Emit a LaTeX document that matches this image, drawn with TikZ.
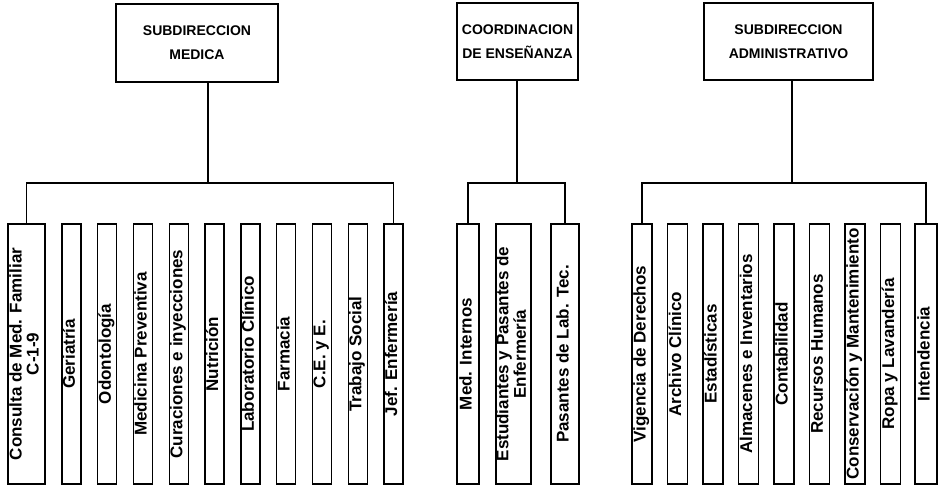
\documentclass[tikz,border=0pt]{standalone}
\usepackage{fontspec}
\setmainfont{Liberation Sans}
\usepackage{graphicx}
\usetikzlibrary{positioning}
\newcommand{\vtext}[1]{\rotatebox{90}{\begin{tabular}{@{}c@{}}#1\end{tabular}}}

\begin{document}
\begin{tikzpicture}[
  x=1pt, y=1pt,
  every node/.style={inner sep=0pt, outer sep=0pt, font=\bfseries},
  jefe/.style={draw, line width=1.4pt, align=center, font=\fontsize{14}{24}\selectfont\bfseries},
  area/.style={draw, line width=1.4pt, minimum height=260pt, minimum width=19pt, font=\fontsize{17}{17}\selectfont\bfseries},
  linea/.style={line width=1.4pt},
  node distance=16.8pt
]
\useasboundingbox (0,0) rectangle (939,487);

\node[jefe, minimum width=162pt, minimum height=78pt] (hsm) at (197,444) {SUBDIRECCION\\MEDICA};
\node[jefe, minimum width=121pt, minimum height=77pt] (hce) at (517.5,445.5) {COORDINACION\\DE ENSEÑANZA};
\node[jefe, minimum width=169pt, minimum height=77pt] (hsa) at (788.5,445.5) {SUBDIRECCION\\ADMINISTRATIVO};

\node[area, minimum width=37pt] (m1) at (26.5,133) {\vtext{Consulta de Med. Familiar\\C-1-9}};
\node[area, right=of m1] (m2) {\vtext{Geriatría}};
\node[area, right=of m2] (m3) {\vtext{Odontología}};
\node[area, right=of m3] (m4) {\vtext{Medicina Preventiva}};
\node[area, right=of m4] (m5) {\vtext{Curaciones e inyecciones}};
\node[area, right=of m5] (m6) {\vtext{Nutrición}};
\node[area, right=of m6] (m7) {\vtext{Laboratorio Clínico}};
\node[area, right=of m7] (m8) {\vtext{Farmacia}};
\node[area, right=of m8] (m9) {\vtext{C.E. y E.}};
\node[area, right=of m9] (m10) {\vtext{Trabajo Social}};
\node[area, right=of m10] (m11) {\vtext{Jef. Enfermería}};

\node[area, minimum width=22pt] (c1) at (468,133) {\vtext{Med. Internos}};
\node[area, minimum width=34pt, right=17pt of c1] (c2) {\vtext{Estudiantes y Pasantes de\\Enfermería}};
\node[area, minimum width=28pt, right=20pt of c2] (c3) {\vtext{Pasantes de Lab. Tec.}};

\node[area, minimum width=20pt] (a1) at (642,133) {\vtext{Vigencia de Derechos}};
\node[area, minimum width=20pt, right=15.5pt of a1] (a2) {\vtext{Archivo Clínico}};
\node[area, minimum width=20pt, right=15.5pt of a2] (a3) {\vtext{Estadísticas}};
\node[area, minimum width=20pt, right=15.5pt of a3] (a4) {\vtext{Almacenes e Inventarios}};
\node[area, minimum width=20pt, right=15.5pt of a4] (a5) {\vtext{Contabilidad}};
\node[area, minimum width=20pt, right=15.5pt of a5] (a6) {\vtext{Recursos Humanos}};
\node[area, minimum width=20pt, right=15.5pt of a6] (a7) {\vtext{Conservación y Mantenimiento}};
\node[area, minimum width=20pt, right=15.5pt of a7] (a8) {\vtext{Ropa y Lavandería}};
\node[area, minimum width=22pt, right=14.5pt of a8] (a9) {\vtext{Intendencia}};

\coordinate (jm) at (208,304);
\coordinate (jc) at (517,304);
\coordinate (ja) at (792,304);

\draw[linea] (hsm.south -| jm) -- (jm);
\draw[linea] (m1.north) |- (jm) -| (m11.north);
\draw[linea] (hce.south -| jc) -- (jc);
\draw[linea] (c1.north) |- (jc) -| (c3.north);
\draw[linea] (hsa.south -| ja) -- (ja);
\draw[linea] (a1.north) |- (ja) -| (a9.north);
\end{tikzpicture}
\end{document}
